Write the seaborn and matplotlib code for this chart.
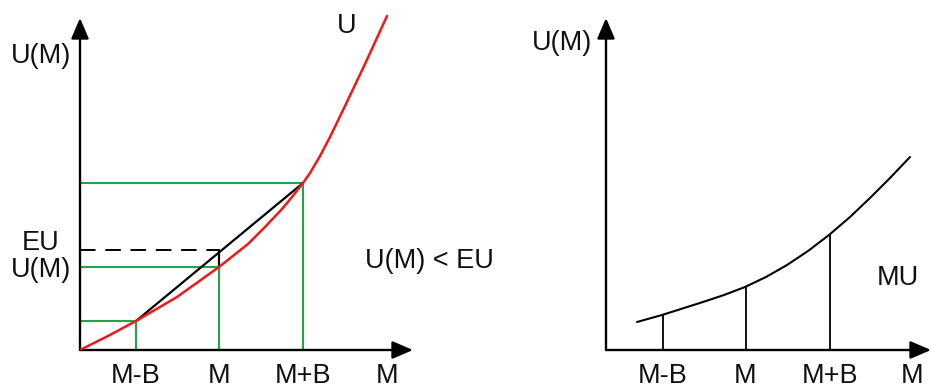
import matplotlib
matplotlib.use("Agg")
import matplotlib.pyplot as plt
import seaborn as sns
import pandas as pd

# schematic values (1 unit ~ 100 px in the reference)
tick_x = [0.56, 1.39, 2.23]          # M-B, M, M+B
tick_labels = ["M-B", "M", "M+B"]

# utility curve U (convex)
u_x = [0, 0.28, 0.56, 0.97, 1.39, 1.68, 1.85, 2.02, 2.12, 2.23, 2.30, 2.40, 2.50, 2.65, 2.85, 3.07]
u_y = [0, 0.14, 0.29, 0.53, 0.83, 1.06, 1.23, 1.41, 1.53, 1.67, 1.77, 1.94, 2.13, 2.44, 2.86, 3.34]
u_at_ticks = [0.29, 0.83, 1.67]
eu_value = 1.00

# marginal utility curve MU
mu_x = [0.31, 0.56, 0.97, 1.18, 1.39, 1.60, 1.81, 2.02, 2.23, 2.44, 2.64, 2.84, 3.04]
mu_y = [0.28, 0.35, 0.48, 0.55, 0.63, 0.73, 0.85, 0.99, 1.15, 1.33, 1.52, 1.72, 1.93]
mu_at_ticks = [0.35, 0.63, 1.15]

RED = "#f01818"
GREEN = "#25a24e"
FS = 19.5
TXT = "#111111"

sns.set_style("white")
plt.rcParams["font.family"] = ["Liberation Sans", "DejaVu Sans"]

fig = plt.figure(figsize=(9.31, 3.85), dpi=100)
ax1 = fig.add_axes([80 / 931, 35 / 385, 350 / 931, 350 / 385])
ax2 = fig.add_axes([606 / 931, 35 / 385, 325 / 931, 350 / 385])

for ax, xmax in [(ax1, 3.5), (ax2, 3.25)]:
    ax.set_xlim(0, xmax)
    ax.set_ylim(0, 3.5)
    ax.axis("off")


def draw_axes(ax, xend, yend):
    style = dict(arrowstyle="-|>,head_length=0.7,head_width=0.3", lw=1.7,
                 color="black", shrinkA=0, shrinkB=0, mutation_scale=18)
    ax.annotate("", xy=(xend, 0), xytext=(0, 0), arrowprops=style, annotation_clip=False)
    ax.annotate("", xy=(0, yend), xytext=(0, 0), arrowprops=style, annotation_clip=False)


def label(ax, x, y, s, ha="center"):
    ax.text(x, y, s, ha=ha, va="baseline", fontsize=FS, color=TXT)


# ---- left panel ----
draw_axes(ax1, 3.33, 3.32)

# green guide lines
for x, y in zip(tick_x, u_at_ticks):
    ax1.plot([0, x], [y, y], color=GREEN, lw=1.5, zorder=2)
    ax1.plot([x, x], [0, y], color=GREEN, lw=1.5, zorder=2)

# chord between M-B and M+B, EU at M
ax1.plot([tick_x[0], tick_x[2]], [u_at_ticks[0], u_at_ticks[2]], color="black", lw=1.6, zorder=3)
ax1.plot([0, tick_x[1]], [eu_value, eu_value], color="black", lw=1.4, dashes=(8, 5), zorder=3)
ax1.plot([tick_x[1], tick_x[1]], [u_at_ticks[1], eu_value], color="black", lw=1.6, zorder=3)

df_u = pd.DataFrame({"x": u_x, "y": u_y})
sns.lineplot(data=df_u, x="x", y="y", ax=ax1, color=RED, lw=1.8, estimator=None, zorder=4)

for x, lab in zip(tick_x, tick_labels):
    label(ax1, x, -0.33, lab)
label(ax1, 3.07, -0.33, "M")
label(ax1, -0.39, 2.87, "U(M)")
label(ax1, -0.395, 1.00, "EU")
label(ax1, -0.39, 0.73, "U(M)")
label(ax1, 2.665, 3.17, "U")
label(ax1, 2.85, 0.82, "U(M) < EU", ha="left")

# ---- right panel ----
draw_axes(ax2, 3.25, 3.32)

for x, y in zip(tick_x, mu_at_ticks):
    ax2.plot([x + 0.005, x + 0.005], [0, y], color="black", lw=1.3)

df_mu = pd.DataFrame({"x": mu_x, "y": mu_y})
sns.lineplot(data=df_mu, x="x", y="y", ax=ax2, color="black", lw=1.5, estimator=None)

for x, lab in zip(tick_x, tick_labels):
    label(ax2, x + 0.005, -0.33, lab)
label(ax2, 3.06, -0.33, "M")
label(ax2, -0.435, 3.0, "U(M)")
label(ax2, 2.92, 0.65, "MU")

fig.savefig("out.png", dpi=100)
